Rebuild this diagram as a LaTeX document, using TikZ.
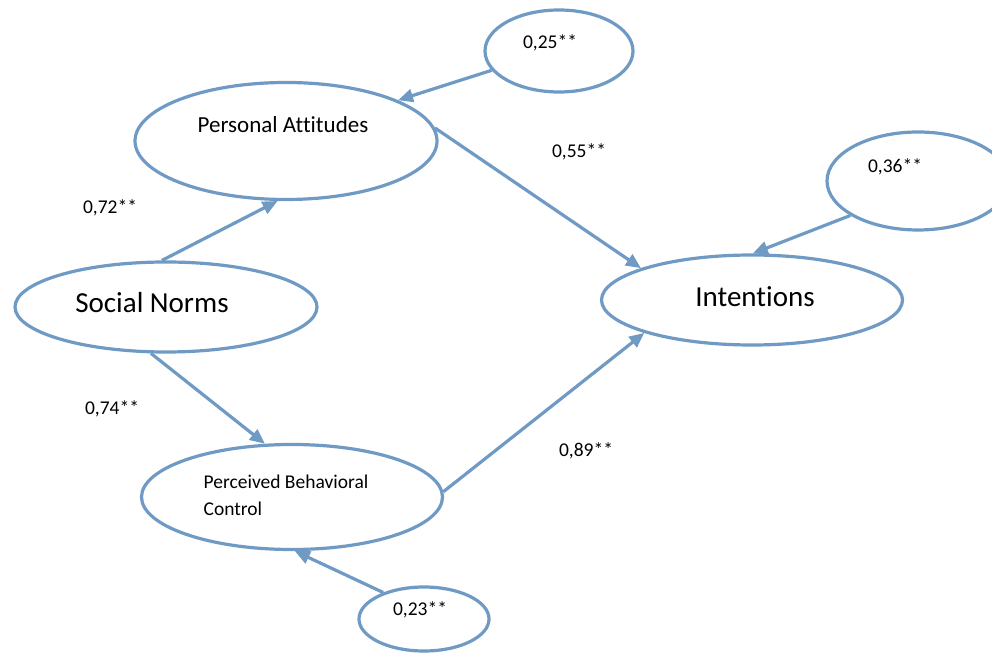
\documentclass[tikz,border=0pt]{standalone}
\usepackage{fontspec}
\setmainfont{Carlito}[Ligatures=NoCommon]
\usetikzlibrary{arrows.meta,shapes.geometric}
\definecolor{pathblue}{RGB}{111,154,196}

\begin{document}
\begin{tikzpicture}[x=1pt,y=1pt,
		oval/.style={ellipse,draw=pathblue,line width=3.2pt,inner sep=0pt},
		link/.style={draw=pathblue,line width=3.2pt,-{Triangle[length=15pt,width=13pt]}},
		coef/.style={font=\fontsize{19.5}{23}\selectfont},
		bigtxt/.style={font=\fontsize{29}{34}\selectfont},
		midtxt/.style={font=\fontsize{23}{27}\selectfont}]
		\useasboundingbox (0,0) rectangle (992,653);
		% latent variables
		\node[oval,minimum width=302pt,minimum height=117pt,label={[midtxt,xshift=-3pt,yshift=16pt]center:Personal Attitudes}] (pa) at (286,512) {};
		\node[oval,minimum width=302pt,minimum height=90pt,label={[bigtxt,xshift=-14pt,yshift=4pt]center:Social Norms}] (sn) at (166,346) {};
		\node[oval,minimum width=301pt,minimum height=105pt,label={[align=left,font=\fontsize{19.5}{27}\selectfont,xshift=-6pt,yshift=2pt]center:Perceived Behavioral\\Control}] (pbc) at (292,156) {};
		\node[oval,minimum width=301pt,minimum height=90pt,label={[bigtxt,xshift=3pt,yshift=3pt]center:Intentions}] (int) at (752,353) {};
		% error terms
		\node[oval,minimum width=148pt,minimum height=82pt,label={[coef,xshift=-9pt,yshift=8pt]center:0,25**}] (e25) at (559,602) {};
		\node[oval,minimum width=182pt,minimum height=98pt,label={[coef,xshift=-23pt,yshift=14pt]center:0,36**}] (e36) at (918,472) {};
		\node[oval,minimum width=130pt,minimum height=64pt,label={[coef,xshift=-4pt,yshift=9pt]center:0,23**}] (e23) at (424,34) {};
		% paths
		\foreach \a/\b in {e25.196/pa.20,sn.95/pa.262,pa.5/int.164,e36.207/int.89,sn.252/pbc.117,pbc.2/int.197,e23.147/pbc.273}
			\draw[link] (\a) -- (\b);
		% path coefficients
		\node[coef] (c72) at (110,445) {0,72**};
		\node[coef] (c55) at (579,501) {0,55**};
		\node[coef] (c74) at (112,244) {0,74**};
		\node[coef] (c89) at (586,202) {0,89**};
\end{tikzpicture}
\end{document}
